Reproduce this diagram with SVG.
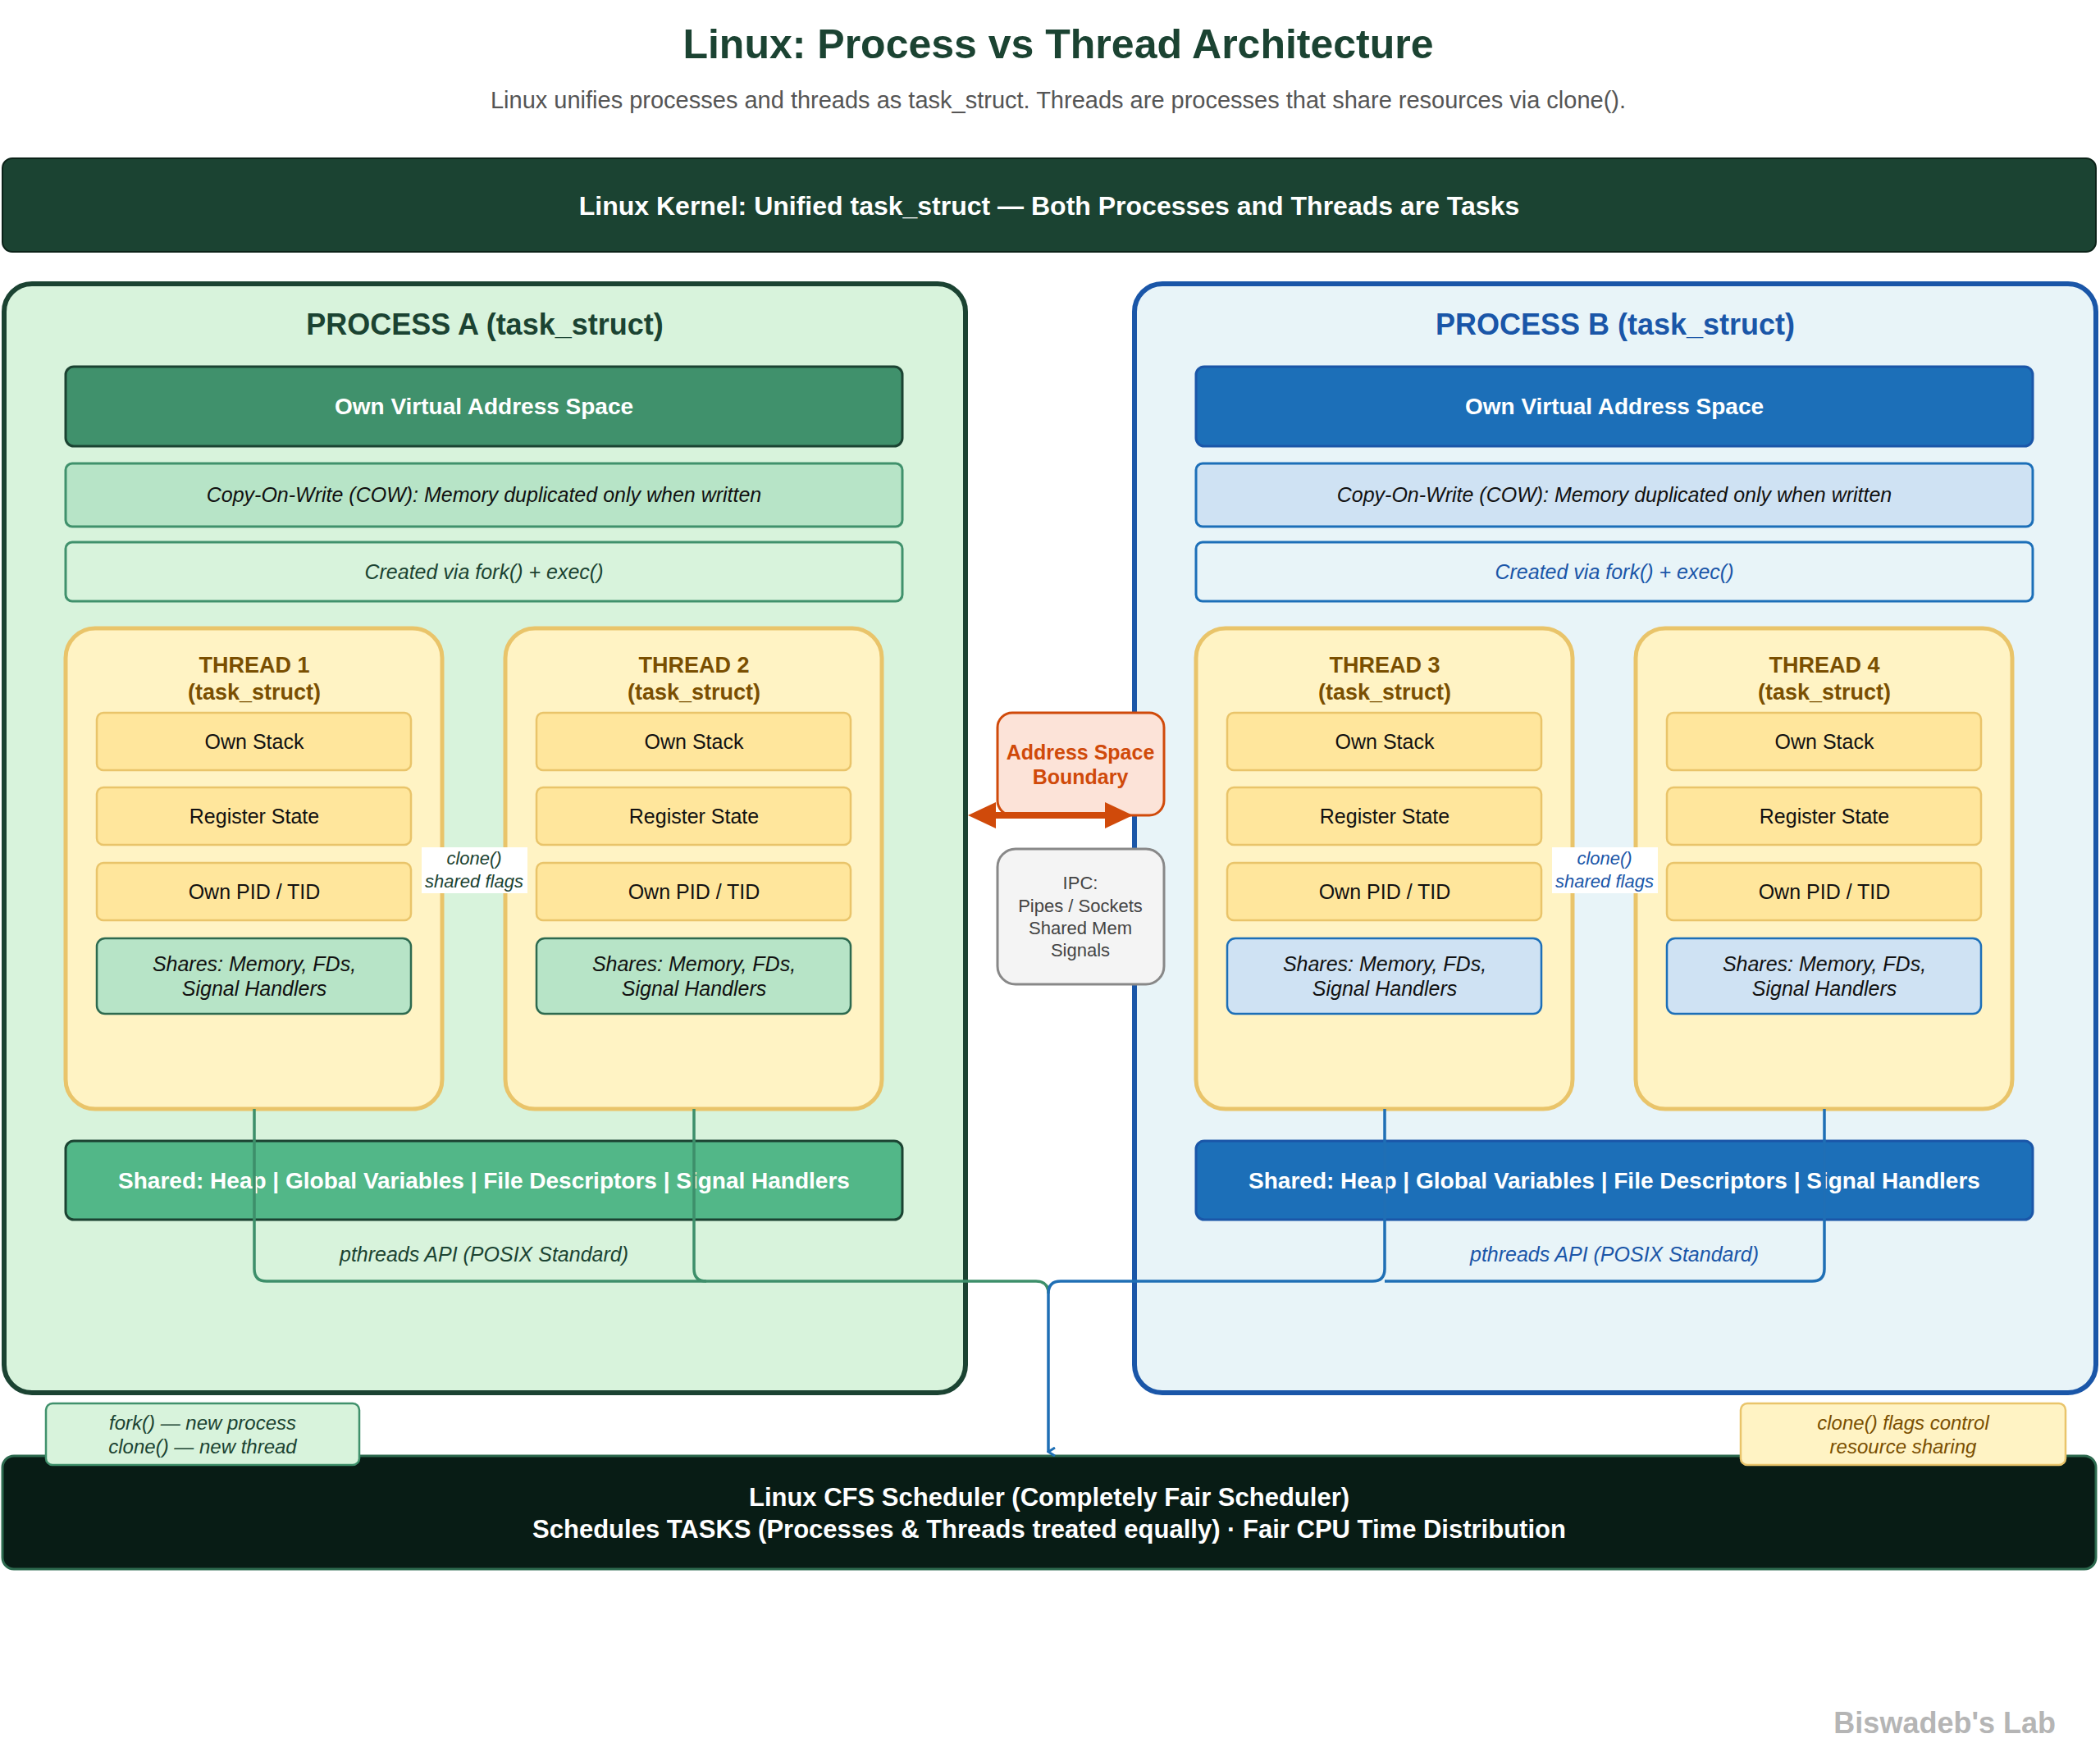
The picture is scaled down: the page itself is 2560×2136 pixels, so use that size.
<svg xmlns="http://www.w3.org/2000/svg" width="2560" height="2136" viewBox="0 0 2560 2136">
<style>
text{font-family:"Liberation Sans",Arial,sans-serif;text-anchor:middle;dominant-baseline:central}
.b{font-weight:bold}.i{font-style:italic}
.thr{fill:#fff3c4;stroke:#e9c46a;stroke-width:5}
.it{fill:#ffe69c;stroke:#e9c46a;stroke-width:2.5}
.sa{fill:#b7e4c7;stroke:#2d6a4f;stroke-width:2.5}
.sb{fill:#cfe2f3;stroke:#1c6fb8;stroke-width:2.5}
.tt{font-size:27px;fill:#7a4f01;font-weight:bold}
.itx{font-size:25px;fill:#111}
.shx{font-size:25px;fill:#111;font-style:italic}
.ca{fill:none;stroke:#3d8f6a;stroke-width:3.5}
.cb{fill:none;stroke:#1f6fb5;stroke-width:3.5}
</style>
<defs>
<marker id="ah" markerWidth="12" markerHeight="12" refX="6" refY="10" orient="auto" markerUnits="userSpaceOnUse" viewBox="0 0 12 12"><path d="M1,2 L6,10 L11,2" fill="none" stroke="#1f6fb5" stroke-width="3"/></marker>
</defs>
<rect width="2560" height="2136" fill="#fff"/>
<text x="1290" y="54" class="b" font-size="50" fill="#1b4332">Linux: Process vs Thread Architecture</text>
<text x="1290" y="122" font-size="29" fill="#555">Linux unifies processes and threads as task_struct. Threads are processes that share resources via clone().</text>
<g id="banner"><rect x="3" y="193" width="2552" height="114" rx="12" fill="#1b4332" stroke="#0b2218" stroke-width="2"/><text x="1279" y="251" class="b" font-size="32" fill="#fff">Linux Kernel: Unified task_struct — Both Processes and Threads are Tasks</text></g>

<g id="processA">
<rect x="5" y="346" width="1172" height="1352" rx="34" fill="#d8f3dc" stroke="#1b4332" stroke-width="6"/>
<text x="591" y="395" class="b" font-size="36" fill="#1b4332">PROCESS A (task_struct)</text>
<rect x="80" y="447" width="1020" height="97" rx="10" fill="#40916c" stroke="#1b4332" stroke-width="3"/>
<text x="590" y="495" class="b" font-size="28" fill="#fff">Own Virtual Address Space</text>
<rect x="80" y="565" width="1020" height="77" rx="8" fill="#b7e4c7" stroke="#40916c" stroke-width="3"/>
<text x="590" y="603" class="i" font-size="25" fill="#111">Copy-On-Write (COW): Memory duplicated only when written</text>
<rect x="80" y="661" width="1020" height="72" rx="8" fill="#d8f3dc" stroke="#40916c" stroke-width="3"/>
<text x="590" y="697" class="i" font-size="25" fill="#1b4332">Created via fork() + exec()</text>
<rect x="80" y="1391" width="1020" height="96" rx="10" fill="#52b788" stroke="#1b4332" stroke-width="3"/>
<text x="590" y="1439" class="b" font-size="28" fill="#fff">Shared: Heap | Global Variables | File Descriptors | Signal Handlers</text>
<text x="590" y="1529" class="i" font-size="25" fill="#1b4332">pthreads API (POSIX Standard)</text>
</g>

<g id="processB">
<rect x="1383" y="346" width="1172" height="1352" rx="34" fill="#e8f4f8" stroke="#1a56a8" stroke-width="6"/>
<text x="1969" y="395" class="b" font-size="36" fill="#1a56a8">PROCESS B (task_struct)</text>
<rect x="1458" y="447" width="1020" height="97" rx="10" fill="#1c6fb8" stroke="#1a56a8" stroke-width="3"/>
<text x="1968" y="495" class="b" font-size="28" fill="#fff">Own Virtual Address Space</text>
<rect x="1458" y="565" width="1020" height="77" rx="8" fill="#cfe2f3" stroke="#1c6fb8" stroke-width="3"/>
<text x="1968" y="603" class="i" font-size="25" fill="#111">Copy-On-Write (COW): Memory duplicated only when written</text>
<rect x="1458" y="661" width="1020" height="72" rx="8" fill="#e8f4f8" stroke="#1c6fb8" stroke-width="3"/>
<text x="1968" y="697" class="i" font-size="25" fill="#1a56a8">Created via fork() + exec()</text>
<rect x="1458" y="1391" width="1020" height="96" rx="10" fill="#1c6fb8" stroke="#1a56a8" stroke-width="3"/>
<text x="1968" y="1439" class="b" font-size="28" fill="#fff">Shared: Heap | Global Variables | File Descriptors | Signal Handlers</text>
<text x="1968" y="1529" class="i" font-size="25" fill="#1a56a8">pthreads API (POSIX Standard)</text>
</g>

<g id="thread1"><rect class="thr" x="80" y="766" width="459" height="586" rx="36"/>
<text x="310" y="811" class="tt">THREAD 1</text><text x="310" y="844" class="tt">(task_struct)</text>
<rect class="it" x="118" y="869" width="383" height="70" rx="8"/><text x="310" y="904" class="itx">Own Stack</text>
<rect class="it" x="118" y="960" width="383" height="70" rx="8"/><text x="310" y="995" class="itx">Register State</text>
<rect class="it" x="118" y="1052" width="383" height="70" rx="8"/><text x="310" y="1087" class="itx">Own PID / TID</text>
<rect class="sa" x="118" y="1144" width="383" height="92" rx="10"/><text x="310" y="1175" class="shx">Shares: Memory, FDs,</text><text x="310" y="1205" class="shx">Signal Handlers</text></g>
<g id="thread2"><rect class="thr" x="616" y="766" width="459" height="586" rx="36"/>
<text x="846" y="811" class="tt">THREAD 2</text><text x="846" y="844" class="tt">(task_struct)</text>
<rect class="it" x="654" y="869" width="383" height="70" rx="8"/><text x="846" y="904" class="itx">Own Stack</text>
<rect class="it" x="654" y="960" width="383" height="70" rx="8"/><text x="846" y="995" class="itx">Register State</text>
<rect class="it" x="654" y="1052" width="383" height="70" rx="8"/><text x="846" y="1087" class="itx">Own PID / TID</text>
<rect class="sa" x="654" y="1144" width="383" height="92" rx="10"/><text x="846" y="1175" class="shx">Shares: Memory, FDs,</text><text x="846" y="1205" class="shx">Signal Handlers</text></g>
<g id="thread3"><rect class="thr" x="1458" y="766" width="459" height="586" rx="36"/>
<text x="1688" y="811" class="tt">THREAD 3</text><text x="1688" y="844" class="tt">(task_struct)</text>
<rect class="it" x="1496" y="869" width="383" height="70" rx="8"/><text x="1688" y="904" class="itx">Own Stack</text>
<rect class="it" x="1496" y="960" width="383" height="70" rx="8"/><text x="1688" y="995" class="itx">Register State</text>
<rect class="it" x="1496" y="1052" width="383" height="70" rx="8"/><text x="1688" y="1087" class="itx">Own PID / TID</text>
<rect class="sb" x="1496" y="1144" width="383" height="92" rx="10"/><text x="1688" y="1175" class="shx">Shares: Memory, FDs,</text><text x="1688" y="1205" class="shx">Signal Handlers</text></g>
<g id="thread4"><rect class="thr" x="1994" y="766" width="459" height="586" rx="36"/>
<text x="2224" y="811" class="tt">THREAD 4</text><text x="2224" y="844" class="tt">(task_struct)</text>
<rect class="it" x="2032" y="869" width="383" height="70" rx="8"/><text x="2224" y="904" class="itx">Own Stack</text>
<rect class="it" x="2032" y="960" width="383" height="70" rx="8"/><text x="2224" y="995" class="itx">Register State</text>
<rect class="it" x="2032" y="1052" width="383" height="70" rx="8"/><text x="2224" y="1087" class="itx">Own PID / TID</text>
<rect class="sb" x="2032" y="1144" width="383" height="92" rx="10"/><text x="2224" y="1175" class="shx">Shares: Memory, FDs,</text><text x="2224" y="1205" class="shx">Signal Handlers</text></g>

<g id="boundary"><rect x="1216" y="869" width="203" height="125" rx="18" fill="#fce3d8" stroke="#d04a0a" stroke-width="3"/>
<text x="1317" y="917" class="b" font-size="25" fill="#d04a0a">Address Space</text><text x="1317" y="947" class="b" font-size="25" fill="#d04a0a">Boundary</text></g>
<g id="ipc"><rect x="1216" y="1035" width="203" height="165" rx="22" fill="#f4f4f4" stroke="#888" stroke-width="3"/>
<text x="1317" y="1076" font-size="22" fill="#444">IPC:</text><text x="1317" y="1104" font-size="22" fill="#444">Pipes / Sockets</text><text x="1317" y="1131" font-size="22" fill="#444">Shared Mem</text><text x="1317" y="1158" font-size="22" fill="#444">Signals</text></g>

<g id="scheduler"><rect x="3" y="1775" width="2552" height="138" rx="14" fill="#081c15" stroke="#2d6a4f" stroke-width="3"/>
<text x="1279" y="1825" class="b" font-size="31" fill="#fff">Linux CFS Scheduler (Completely Fair Scheduler)</text>
<text x="1279" y="1864" class="b" font-size="31" fill="#fff">Schedules TASKS (Processes &amp; Threads treated equally) · Fair CPU Time Distribution</text></g>
<g id="noteFork"><rect x="56" y="1711" width="382" height="75" rx="8" fill="#d8f3dc" stroke="#40916c" stroke-width="2.5"/>
<text x="247" y="1734" class="i" font-size="24" fill="#1b4332">fork() — new process</text><text x="247" y="1763" class="i" font-size="24" fill="#1b4332">clone() — new thread</text></g>
<g id="noteClone"><rect x="2122" y="1711" width="396" height="75" rx="8" fill="#fff3c4" stroke="#e9c46a" stroke-width="2.5"/>
<text x="2320" y="1734" class="i" font-size="24" fill="#7a4f01">clone() flags control</text><text x="2320" y="1763" class="i" font-size="24" fill="#7a4f01">resource sharing</text></g>

<g id="connectors">
<path class="ca" d="M310,1352 V1547 Q310,1562 325,1562 H1263 Q1278,1562 1278,1577"/>
<path class="ca" d="M846,1352 V1547 Q846,1562 861,1562"/>
<path class="cb" d="M1688,1352 V1547 Q1688,1562 1673,1562 H1293 Q1278,1562 1278,1577 V1770" marker-end="url(#ah)"/>
<path class="cb" d="M2224,1352 V1547 Q2224,1562 2209,1562 H1688"/>
<line x1="1200" y1="994" x2="1361" y2="994" stroke="#d04a0a" stroke-width="8"/>
<polygon points="1180,994 1214,978 1214,1010" fill="#d04a0a"/>
<polygon points="1381,994 1347,978 1347,1010" fill="#d04a0a"/>
<rect x="514" y="1033" width="129" height="56" fill="#fff"/>
<text x="578" y="1046" class="i" font-size="22" fill="#1b4332">clone()</text><text x="578" y="1074" class="i" font-size="22" fill="#1b4332">shared flags</text>
<rect x="1892" y="1033" width="129" height="56" fill="#fff"/>
<text x="1956" y="1046" class="i" font-size="22" fill="#1a56a8">clone()</text><text x="1956" y="1074" class="i" font-size="22" fill="#1a56a8">shared flags</text>
</g>
<text x="2506" y="2100" class="b" font-size="36" fill="#b5b5b5" style="text-anchor:end">Biswadeb's Lab</text>
</svg>
